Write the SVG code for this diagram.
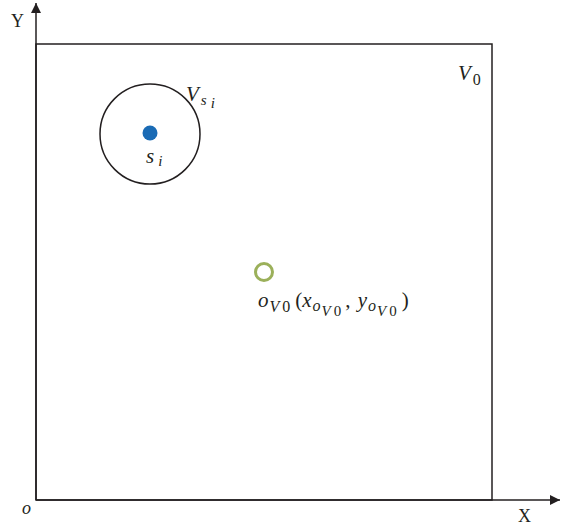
<svg xmlns="http://www.w3.org/2000/svg" width="568" height="525" viewBox="0 0 568 525">
<style>
.ln{stroke:#231f20;stroke-width:1.5;fill:none}
.t{font-family:"Liberation Serif","DejaVu Serif",serif;fill:#231f20}
.i{font-style:italic}
</style>
<defs>
<marker id="ah" viewBox="0 0 10 10" refX="10" refY="5" markerWidth="10" markerHeight="10" markerUnits="userSpaceOnUse" orient="auto">
<path d="M0,0 L10,5 L0,10 Z" fill="#231f20"/>
</marker>
</defs>
<rect width="568" height="525" fill="#fff"/>
<g id="connectors">
<line class="ln" x1="36" y1="500" x2="36" y2="3" marker-end="url(#ah)"/>
<line class="ln" x1="36" y1="500" x2="560" y2="500" marker-end="url(#ah)"/>
</g>
<g id="region-V0">
<rect class="ln" x="36" y="44" width="456" height="456"/>
<text class="t i" x="458" y="80" font-size="21">V<tspan font-size="16" font-style="normal" dx="2" dy="5">0</tspan></text>
</g>
<g id="region-Vsi">
<circle class="ln" cx="150" cy="134" r="50"/>
<text class="t i" x="186" y="101" font-size="21">V<tspan font-size="15" dx="2" dy="4">s</tspan><tspan font-size="15" dx="4" dy="3">i</tspan></text>
</g>
<g id="node-si">
<circle cx="150" cy="133" r="7.5" fill="#1a6bb5"/>
<text class="t i" x="146" y="163" font-size="21">s<tspan font-size="15" dx="4" dy="3">i</tspan></text>
</g>
<g id="node-oV0">
<circle cx="264" cy="272" r="8.5" fill="none" stroke="#9bb05a" stroke-width="3"/>
<text class="t" x="258" y="307" font-size="21"><tspan class="i">o</tspan><tspan class="i" font-size="16" dx="1" dy="5">V</tspan><tspan font-size="16" dx="3">0</tspan><tspan dx="5" dy="-5">(</tspan><tspan class="i">x</tspan><tspan class="i" font-size="16" dx="1" dy="4">o</tspan><tspan class="i" font-size="15" dx="1" dy="5">V</tspan><tspan font-size="15" dx="3">0</tspan><tspan dx="4" dy="-9">, </tspan><tspan class="i" dx="2">y</tspan><tspan class="i" font-size="16" dx="1" dy="4">o</tspan><tspan class="i" font-size="15" dx="1" dy="5">V</tspan><tspan font-size="15" dx="3">0</tspan><tspan dx="5" dy="-9">)</tspan></text>
</g>
<g id="labels">
<text class="t" x="11" y="27" font-size="18">Y</text>
<text class="t" x="518" y="522" font-size="18">X</text>
<text class="t i" x="22" y="514" font-size="18">o</text>
</g>
</svg>
